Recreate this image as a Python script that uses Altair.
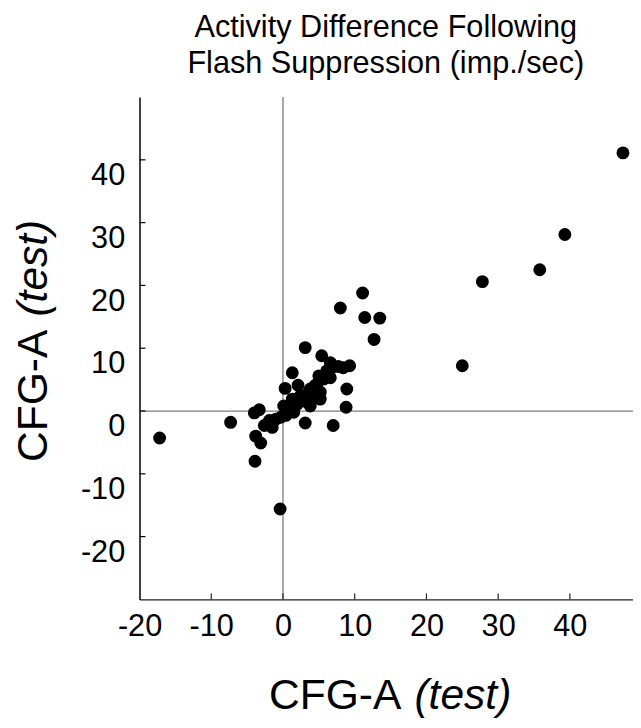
import altair as alt
import pandas as pd

# ---- data ----
x_vals = [-17.2, -7.3, -4.0, -3.3, -3.8, -3.9, -3.1, -0.4,
          3.1, 8.0, 11.1, 11.4, 13.5, 12.7, 5.4, 9.3, 6.6, 7.7,
          1.3, 5.0, 6.6, 2.1, 0.3, 4.5, 8.9, 5.2, 3.8, 8.8, 3.1, 7.0,
          25.0, 27.8, 35.8, 39.3, 47.4,
          -2.6, -1.9, -1.0, -1.5, -0.3, 0.4, 0.8, 1.5, 0.1, 1.3, 2.0,
          2.4, 3.4, 2.9, 4.0, 3.8, 4.7, 5.2, 5.7, 6.1, 6.8, 8.4]
y_vals = [-4.3, -1.8, -0.3, 0.2, -4.0, -8.0, -5.1, -15.6,
          10.1, 16.4, 18.8, 14.9, 14.8, 11.4, 8.8, 7.2, 7.7, 7.1,
          6.1, 5.6, 5.3, 4.1, 3.6, 4.1, 3.5, 1.9, 0.8, 0.6, -1.9, -2.3,
          7.2, 20.6, 22.5, 28.1, 41.1,
          -2.3, -1.5, -1.3, -2.6, -1.0, -0.7, 0.1, -0.2, 0.8, 1.9, 1.1,
          2.4, 2.7, 1.6, 2.2, 3.5, 4.0, 3.0, 5.1, 6.4, 6.9, 6.9]

x_label_vals = [-20, -10, 0, 10, 20, 30, 40]
y_label_vals = [-20, -10, 0, 10, 20, 30, 40]
x_tick_vals = [-10, 0, 10, 20, 30, 40]
y_tick_vals = [-20, -10, 0, 10, 20, 30, 40]
zero_vals = [0]

title_line1 = "Activity Difference Following"
title_line2 = "Flash Suppression (imp./sec)"
axis_title_main = "CFG-A"
axis_title_ital = "(test)"

# ---- layout ----
W, H = 499, 508
FONT = "Liberation Sans"

pts = pd.DataFrame({"x": x_vals, "y": y_vals})
zero_df = pd.DataFrame({"z": zero_vals})
xt_df = pd.DataFrame({"t": x_tick_vals})
yt_df = pd.DataFrame({"t": y_tick_vals})

xs = alt.Scale(domain=[-20, 48.8], nice=False, zero=False)
ys = alt.Scale(domain=[-30, 50], nice=False, zero=False)

x_axis = alt.Axis(values=x_label_vals, labelExpr="datum.value + ''",
                  ticks=False, tickSize=0, grid=False,
                  domainColor="#222", domainWidth=1.3,
                  labelFont=FONT, labelFontSize=31, labelColor="black",
                  labelPadding=12, labelBaseline="top",
                  labelFlush=False, labelOverlap=False, title=None)
y_axis = alt.Axis(values=y_label_vals, labelExpr="datum.value + ''",
                  ticks=False, tickSize=0, grid=False,
                  domainColor="black", domainWidth=1.5,
                  labelFont=FONT, labelFontSize=31, labelColor="black",
                  labelPadding=15, labelBaseline="top", labelOffset=1,
                  labelFlush=False, labelOverlap=False, title=None)

hzero = alt.Chart(zero_df).mark_rule(color="#7a7a7a", strokeWidth=1.3).encode(
    y=alt.Y("z:Q", scale=ys, axis=y_axis),
    x=alt.value(0), x2=alt.value(W))
vzero = alt.Chart(zero_df).mark_rule(color="#7a7a7a", strokeWidth=1.3).encode(
    x=alt.X("z:Q", scale=xs, axis=x_axis),
    y=alt.value(0), y2=alt.value(H))

yticks = alt.Chart(yt_df).mark_rule(color="black", strokeWidth=1.2).encode(
    y=alt.Y("t:Q", scale=ys, axis=y_axis),
    x=alt.value(0), x2=alt.value(6))
xticks = alt.Chart(xt_df).mark_rule(color="#222", strokeWidth=1.2).encode(
    x=alt.X("t:Q", scale=xs, axis=x_axis),
    y=alt.value(H), y2=alt.value(H - 6))

points = alt.Chart(pts).mark_circle(size=170, color="black", opacity=1).encode(
    x=alt.X("x:Q", scale=xs, axis=x_axis),
    y=alt.Y("y:Q", scale=ys, axis=y_axis))

one = alt.Data(values=[{"a": 1}])

def txt(text, x, y, size, style="normal", align="center", angle=0):
    return alt.Chart(one).mark_text(
        text=text, font=FONT, fontSize=size, fontStyle=style,
        align=align, baseline="alphabetic", angle=angle, color="black"
    ).encode(x=alt.value(x), y=alt.value(y))

t1 = txt(title_line1, 249, -60.5, 31)
t2 = txt(title_line2, 249, -24.5, 31)
xt_main = txt(axis_title_main, 131, 618.7, 43, align="left")
xt_ital = txt(axis_title_ital, 278, 618.7, 43, style="italic", align="left")
yt_main = txt(axis_title_main, -94, 369, 43, align="left", angle=270)
yt_ital = txt(axis_title_ital, -94, 222, 43, style="italic", align="left", angle=270)

chart = alt.layer(
    hzero, vzero, yticks, xticks, points,
    t1, t2, xt_main, xt_ital, yt_main, yt_ital
).properties(
    width=W, height=H,
    padding={"left": 133, "top": 86, "right": 0, "bottom": 126},
    autosize=alt.AutoSizeParams(type="none"),
).configure_view(stroke=None)

chart.save("out.html", embed_options={"renderer": "svg", "actions": False})
